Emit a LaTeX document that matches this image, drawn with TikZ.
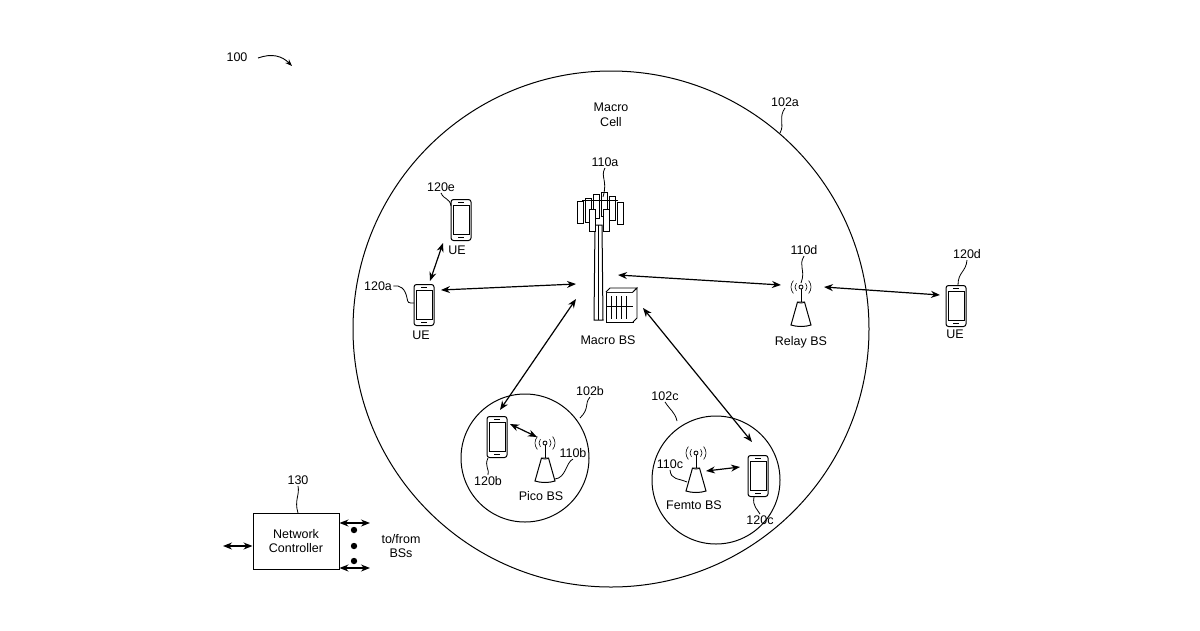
\documentclass[tikz,border=0pt]{standalone}
\usepackage{fontspec}
\setmainfont{Liberation Sans}
\usetikzlibrary{arrows.meta}
\begin{document}
\begin{tikzpicture}[x=1pt,y=-1pt,line width=1pt,
  lbl/.style={font=\fontsize{12.5}{14.5}\selectfont,align=center,inner sep=1pt},
  link/.style={{Stealth[length=9pt,width=7pt]}-{Stealth[length=9pt,width=7pt]},line width=1.2pt},
  lead/.style={line width=0.8pt},
  phone/.pic={\draw[rounded corners=2.5pt,fill=white] (-10,-20.5) rectangle (10,20.5);
    \draw[line width=0.6pt] (-8,-15) rectangle (8,14);
    \draw[line width=0.6pt] (-3,-17.5)--(3,-17.5); \draw[line width=0.8pt] (-3,17.3)--(3,17.3);},
  radio/.pic={\draw[fill=white] (-10,13)--(-3.5,-10)--(3.5,-10)--(10,13) .. controls (4,15) and (-4,15) .. (-10,13) -- cycle;
    \draw[line width=0.6pt] (-3.5,-10) .. controls (-2,-8.5) and (2,-8.5) .. (3.5,-10);
    \draw (0,-10)--(0,-24); \draw[fill=white,line width=0.8pt] (0,-25) circle (2);
    \foreach \r in {6,10} {
      \draw[line width=0.6pt] ([shift={(140:\r)}]0,-25) arc (140:220:\r);
      \draw[line width=0.6pt] ([shift={(-40:\r)}]0,-25) arc (-40:40:\r);}}
]
\useasboundingbox (0,0) rectangle (1200,630);
% circles
\node[circle,draw,minimum size=516pt,inner sep=0] (c102a) at (611,329) {};
\node[circle,draw,minimum size=128pt,inner sep=0] (c102b) at (525,458) {};
\node[circle,draw,minimum size=128pt,inner sep=0] (c102c) at (716,480) {};
% tower
\draw[fill=white] (595,225)--(602,225)--(603,320)--(594,320)--cycle;
\draw[line width=0.6pt] (598.5,225)--(598.5,320);
\foreach \x/\y/\h in {580/212/11,588/210/12,596/206/12,604/204/12,612/208/12,620/213/11,592/220/11,606/220/11} {
  \draw[fill=white,line width=0.7pt] (\x-3,\y-\h) rectangle (\x+3,\y+\h);}
\draw[line width=0.6pt] (582,200)--(618,200);
\draw[fill=white,line width=0.8pt] (606,292) rectangle (633,322);
\draw[fill=white,line width=0.8pt] (606,292)--(610,288)--(637,288)--(633,292);
\draw[fill=white,line width=0.8pt] (633,292)--(637,288)--(637,318)--(633,322);
\foreach \i in {611,616,621,626} \draw[line width=0.5pt] (\i,296)--(\i,319);
\draw[line width=0.5pt] (606,306)--(633,306);
\coordinate (tower) at (598,285);
\coordinate (cab) at (633,300);
% phones
\coordinate (p120e) at (461,220); \pic at (p120e) {phone};
\coordinate (p120a) at (424,305); \pic at (p120a) {phone};
\coordinate (p120d) at (956,306); \pic at (p120d) {phone};
\coordinate (p120b) at (497,437); \pic at (p120b) {phone};
\coordinate (p120c) at (758,476); \pic at (p120c) {phone};
% radios
\coordinate (r110d) at (801,312); \pic at (r110d) {radio};
\coordinate (r110b) at (545,468); \pic at (r110b) {radio};
\coordinate (r110c) at (696,478); \pic at (r110c) {radio};
% links
\draw[link] ([shift={(-18,23)}]p120e) -- ([shift={(6,-24)}]p120a);
\draw[link] ([shift={(17,-15)}]p120a) -- ([shift={(-22,-1)}]tower);
\draw[link] ([shift={(20,-10)}]tower) -- ([shift={(-20,-27)}]r110d);
\draw[link] ([shift={(23,-25)}]r110d) -- ([shift={(-16,-11)}]p120d);
\draw[link] ([shift={(-22,14)}]tower) -- ([shift={(3,-27)}]p120b);
\draw[link] ([shift={(10,8)}]cab) -- ([shift={(-6,-34)}]p120c);
\draw[link] ([shift={(13,-13)}]p120b) -- ([shift={(-8,-31)}]r110b);
\draw[link] ([shift={(10,-7)}]r110c) -- ([shift={(-18,-9)}]p120c);
% network controller
\node[draw,minimum width=86pt,minimum height=56pt,lbl] (nc) at (296,541) {Network\\Controller};
\coordinate (ncin) at (223,546);
\coordinate (o1) at (370,523); \coordinate (o2) at (370,568);
\draw[link] (ncin) -- (nc.west |- ncin);
\draw[link] (nc.east |- o1) -- (o1);
\draw[link] (nc.east |- o2) -- (o2);
\foreach \y in {530,546,561} \fill (354,\y) circle (3.2);
\node[lbl] (tofrom) at (401,546) {to/from\\BSs};
% labels
\node[lbl] (l100) at (237,57) {100};
\draw[-{Stealth[length=7pt]},line width=0.9pt] (258,58) .. controls (272,53) and (282,56) .. (292,66);
\node[lbl] (lcell) at (611,115) {Macro\\Cell};
\node[lbl] (l102a) at (785,102) {102a};
\draw[lead] (l102a.south) .. controls (778,118) and (785,124) .. (780,133);
\node[lbl] (l110a) at (605,162) {110a};
\draw[lead] (l110a.south) .. controls (600,177) and (608,180) .. (603,197);
\node[lbl] (l120e) at (441,187) {120e};
\draw[lead] (l120e.south) .. controls (444,200) and (450,198) .. (451,206);
\node[lbl] (lue1) at (457,250) {UE};
\node[lbl] (l120a) at (378,286) {120a};
\draw[lead] (l120a.east) .. controls (400,285) and (405,288) .. (407,298) .. controls (408,303) .. (414,303);
\node[lbl] (lue2) at (421,335) {UE};
\node[lbl] (l110d) at (804,250) {110d};
\draw[lead] (l110d.south) .. controls (798,266) and (806,270) .. (801,283);
\node[lbl] (lrelay) at (801,342) {Relay BS};
\node[lbl] (l120d) at (967,254) {120d};
\draw[lead] (l120d.south) .. controls (966,272) and (958,272) .. (958,285);
\node[lbl] (lue3) at (955,334) {UE};
\node[lbl] (lmacro) at (608,340) {Macro BS};
\node[lbl] (l102b) at (590,391) {102b};
\draw[lead] (l102b.south) .. controls (584,404) and (590,408) .. (580,418);
\node[lbl] (l102c) at (665,396) {102c};
\draw[lead] (l102c.south) .. controls (670,410) and (675,412) .. (677,421);
\node[lbl] (l120b) at (488,481) {120b};
\draw[lead] (l120b.north) .. controls (490,470) and (484,466) .. (488,458);
\node[lbl] (lpico) at (541,496) {Pico BS};
\node[lbl] (l110b) at (573,453) {110b};
\draw[lead] (l110b.south) .. controls (566,462) and (566,478) .. (555,479);
\node[lbl] (l110c) at (670,464) {110c};
\draw[lead] (l110c.south) .. controls (671,480) and (678,478) .. (687,482);
\node[lbl] (lfemto) at (694,505) {Femto BS};
\node[lbl] (l120c) at (760,520) {120c};
\draw[lead] (l120c.north) .. controls (758,510) and (752,506) .. (754,497);
\node[lbl] (l130) at (298,480) {130};
\draw[lead] (l130.south) .. controls (300,495) and (294,500) .. (298,513);
\end{tikzpicture}
\end{document}
